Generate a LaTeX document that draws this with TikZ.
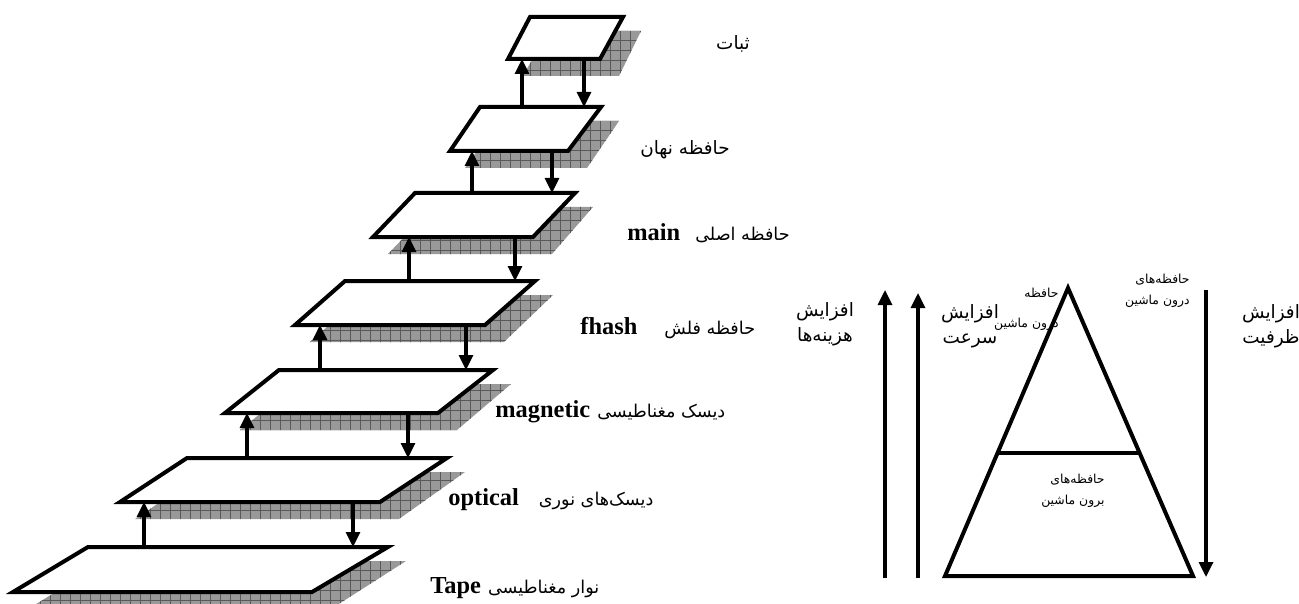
\documentclass[tikz,border=0pt]{standalone}
\usepackage{fontspec}
\setmainfont{Liberation Serif}
\newfontfamily\fa[Script=Arabic]{DejaVu Sans}
\TeXXeTstate=1
\usetikzlibrary{arrows.meta,calc}
\tikzset{
    plate/.style={draw=black, line width=2pt, fill=white},
    shadowfill/.style={fill=black!40},
    shadowgrid/.style={draw=black!65, line width=0.35pt, step=5pt},
    updown/.style={line width=1.6pt, -{Triangle[width=7pt,length=7.5pt]}},
    pyramid/.style={draw=black, line width=2pt},
    big/.style={font=\fa\fontsize{9.2}{12.5}\selectfont, align=center, inner sep=0pt},
    small/.style={font=\fa\fontsize{6.2}{10.5}\selectfont, align=right, inner sep=0pt},
    tag/.style={font=\fontsize{12.2}{14}\selectfont, inner sep=0pt, anchor=west}
}
\newcommand{\fatag}{\fa\fontsize{8.8}{13}\selectfont}
\newcommand{\memlevel}[5]{
  \coordinate (#1-tl) at #2;
  \coordinate (#1-tr) at #3;
  \coordinate (#1-br) at #4;
  \coordinate (#1-bl) at #5;
  \begin{scope}
    \clip ($(#1-tl)+(18,14)$) -- ($(#1-tr)+(18,14)$) -- ($(#1-br)+(19,17)$) -- ($(#1-bl)+(15,17)$) -- cycle;
    \fill[shadowfill] (0,0) rectangle (1299,620);
    \draw[shadowgrid] (0pt,-320pt) grid (660pt,10pt);
  \end{scope}
  \draw[plate] (#1-tl) -- (#1-tr) -- (#1-br) -- (#1-bl) -- cycle;
}

\begin{document}
\begin{tikzpicture}
  [
    x = 0.5pt,
    y = -0.5pt,
  ]
  \useasboundingbox (0,0) rectangle (1299,604);
  \clip (0,0) rectangle (1299,604);

  \memlevel{sta}{(530,17)}{(623,17)}{(600,59)}{(508,59)}
  \memlevel{cache}{(480,107)}{(601,107)}{(568,151)}{(450,151)}
  \memlevel{main}{(415,193)}{(575,193)}{(533,237)}{(373,237)}
  \memlevel{flash}{(345,281)}{(535,281)}{(485,325)}{(295,325)}
  \memlevel{disk}{(279,370)}{(493,370)}{(438,413)}{(225,413)}
  \memlevel{optic}{(187,458)}{(447,458)}{(380,502)}{(120,502)}
  \memlevel{tape}{(88,547)}{(388,547)}{(312,592)}{(13,592)}

  \coordinate (up1) at (522,0);  \coordinate (dn1) at (584,0);
  \coordinate (up2) at (472,0);  \coordinate (dn2) at (552,0);
  \coordinate (up3) at (409,0);  \coordinate (dn3) at (515,0);
  \coordinate (up4) at (320,0);  \coordinate (dn4) at (466,0);
  \coordinate (up5) at (247,0);  \coordinate (dn5) at (408,0);
  \coordinate (up6) at (144,0);  \coordinate (dn6) at (353,0);

  \draw[updown] (up1 |- cache-tl) -- (up1 |- sta-bl);
  \draw[updown] (dn1 |- sta-bl) -- (dn1 |- cache-tl);
  \draw[updown] (up2 |- main-tl) -- (up2 |- cache-bl);
  \draw[updown] (dn2 |- cache-bl) -- (dn2 |- main-tl);
  \draw[updown] (up3 |- flash-tl) -- (up3 |- main-bl);
  \draw[updown] (dn3 |- main-bl) -- (dn3 |- flash-tl);
  \draw[updown] (up4 |- disk-tl) -- (up4 |- flash-bl);
  \draw[updown] (dn4 |- flash-bl) -- (dn4 |- disk-tl);
  \draw[updown] (up5 |- optic-tl) -- (up5 |- disk-bl);
  \draw[updown] (dn5 |- disk-bl) -- (dn5 |- optic-tl);
  \draw[updown] (up6 |- tape-tl) -- (up6 |- optic-bl);
  \draw[updown] (dn6 |- optic-bl) -- (dn6 |- tape-tl);

  \node[big] (sta-lbl) at (733,44) {\beginR ثبات\endR};
  \node[big] (cache-lbl) at (685,150) {\beginR حافظه نهان\endR};
  \node[tag] (main-lbl) at (627,233) {\textbf{main}\hspace{7.5pt}{\fatag\beginR حافظه اصلی\endR}};
  \node[tag] (flash-lbl) at (580,328) {\textbf{fhash}\hspace{13.5pt}{\fatag\beginR حافظه فلش\endR}};
  \node[tag] (disk-lbl) at (495,412) {\textbf{magnetic}\hspace{3.5pt}{\fatag\beginR دیسک مغناطیسی\endR}};
  \node[tag] (optic-lbl) at (448,500) {\textbf{optical}\hspace{10pt}{\fatag\beginR دیسک^^^^200cهای نوری\endR}};
  \node[tag] (tape-lbl) at (430,588) {\textbf{Tape}\hspace{3.5pt}{\fatag\beginR نوار مغناطیسی\endR}};

  \coordinate (apex) at (1068,288);
  \coordinate (base-l) at (945,576);
  \coordinate (base-r) at (1193,576);
  \draw[pyramid] (apex) -- (base-r) -- (base-l) -- cycle;
  \draw[pyramid] ($(apex)!0.573!(base-l)$) -- ($(apex)!0.573!(base-r)$);

  \coordinate (cost-b) at (885,578);   \coordinate (cost-t) at (885,290);
  \coordinate (speed-b) at (918,578);  \coordinate (speed-t) at (918,293);
  \coordinate (size-t) at (1206,290);  \coordinate (size-b) at (1206,577);
  \draw[updown] (cost-b) -- (cost-t);
  \draw[updown] (speed-b) -- (speed-t);
  \draw[updown] (size-t) -- (size-b);

  \node[big] (cost) at (825,324) {\beginR افزایش\endR\\\beginR هزینه^^^^200cها\endR};
  \node[big] (speed) at (970,326) {\beginR افزایش\endR\\\beginR سرعت\endR};
  \node[big] (size) at (1271,326) {\beginR افزایش\endR\\\beginR ظرفیت\endR};
  \node[small, anchor=east] (inner-a) at (1059,309) {\beginR حافظه\endR\\[4.5pt]\beginR درون ماشین\endR};
  \node[small, anchor=east] (inner-b) at (1190,291) {\beginR حافظه^^^^200cهای\endR\\\beginR درون ماشین\endR};
  \node[small, anchor=east] (outer) at (1105,491) {\beginR حافظه^^^^200cهای\endR\\\beginR برون ماشین\endR};
\end{tikzpicture}
\end{document}
